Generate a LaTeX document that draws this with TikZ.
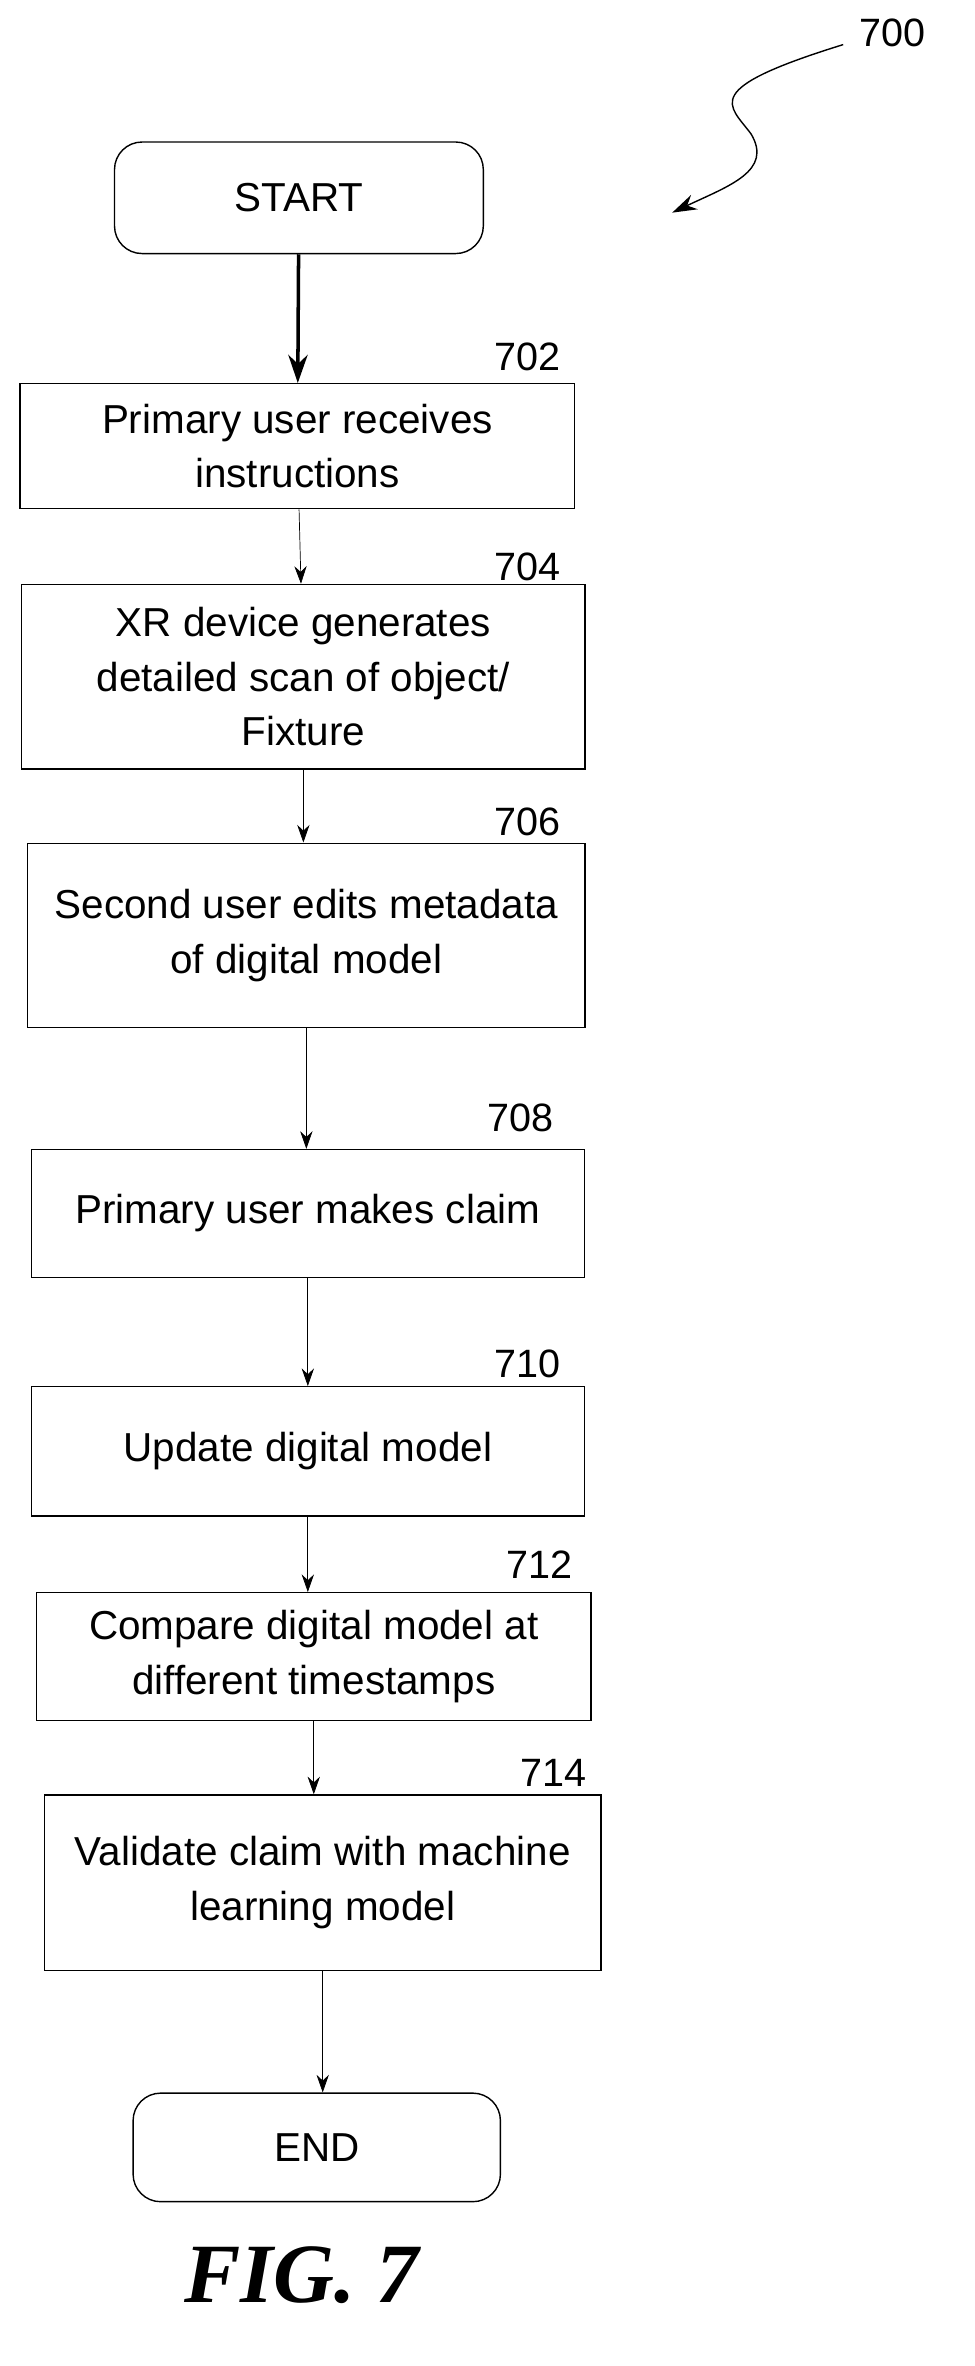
\documentclass[tikz,border=0pt]{standalone}
\usepackage{fontspec}
\setmainfont{Liberation Sans}
\usetikzlibrary{positioning,calc,arrows.meta}

\begin{document}
\begin{tikzpicture}[x=0.02974cm,y=-0.02974cm,
    stepbox/.style={draw, thick, align=center, inner sep=0pt,
      font=\fontsize{23}{31}\selectfont},
    term/.style={stepbox, rounded corners=0.55cm},
    flow/.style={-{Stealth[length=10pt,width=7pt]}},
    tag/.style={font=\fontsize{22.5}{26}\selectfont}]
      \useasboundingbox (0,0) rectangle (655,1591);

      \node[term, minimum width=248*0.02974cm, minimum height=75*0.02974cm] (start) at (201,133) {START};
      \node[stepbox, minimum width=373*0.02974cm, minimum height=84*0.02974cm] (s702) at (200,300) {Primary user receives\\instructions};
      \node[stepbox, minimum width=379*0.02974cm, minimum height=124*0.02974cm] (s704) at (204,455) {XR device generates\\detailed scan of object/\\Fixture};
      \node[stepbox, minimum width=375*0.02974cm, minimum height=124*0.02974cm] (s706) at (206,629) {Second user edits metadata\\of digital model};
      \node[stepbox, minimum width=372*0.02974cm, minimum height=86*0.02974cm] (s708) at (207,816) {Primary user makes claim};
      \node[stepbox, minimum width=372*0.02974cm, minimum height=87*0.02974cm] (s710) at (207,976) {Update digital model};
      \node[stepbox, minimum width=373*0.02974cm, minimum height=86*0.02974cm] (s712) at (211,1114) {Compare digital model at\\different timestamps};
      \node[stepbox, minimum width=374*0.02974cm, minimum height=118*0.02974cm] (s714) at (217,1266) {Validate claim with machine\\learning model};
      \node[term, minimum width=247*0.02974cm, minimum height=73*0.02974cm] (end) at (213,1444) {END};

      % reference numerals
      \node[tag] at (355,240) {702};
      \node[tag] at (355,381) {704};
      \node[tag] at (355,553) {706};
      \node[tag] at (350,752) {708};
      \node[tag] at (355,917) {710};
      \node[tag] at (363,1052) {712};
      \node[tag] at (372,1192) {714};
      \node[tag] (fig) at (600,22) {700};

      \coordinate (w1) at (567,30);
      \coordinate (w2) at (452,143);
      \draw[thick, -{Stealth[length=14pt,width=9pt]}] (w1) .. controls (470,60) and (490,70) .. (505,90) .. controls (520,115) and (490,125) .. (w2);

      \draw[line width=2pt, -{Stealth[length=16pt,width=11pt]}] (start) -- (s702);
      \draw[flow] (s702) -- (s704);
      \draw[flow] (s704) -- (s704 |- s706.north);
      \draw[flow] (s706) -- (s706 |- s708.north);
      \draw[flow] (s708) -- (s708 |- s710.north);
      \draw[flow] (s710.south) -- (s710.south |- s712.north);
      \draw[flow] (s712.south) -- (s712.south |- s714.north);
      \draw[flow] (s714.south) -- (s714.south |- end.north);

      \node[font=\fontsize{48}{52}\bfseries\itshape\fontspec{Liberation Serif}] (title) at (203,1530) {FIG. 7};
\end{tikzpicture}
\end{document}
